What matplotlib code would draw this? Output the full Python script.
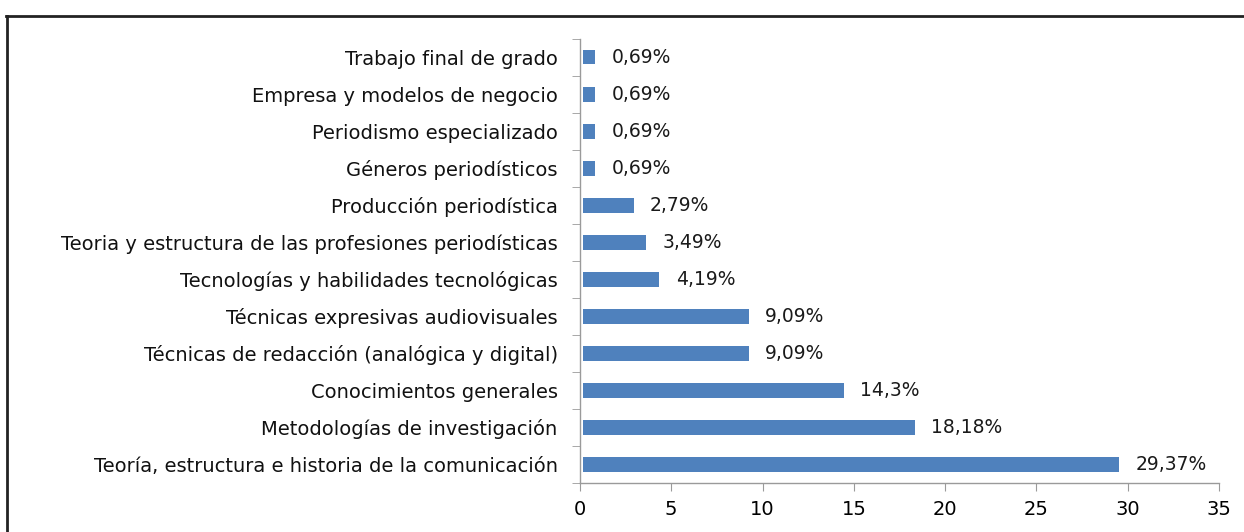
import numpy as np
import matplotlib
matplotlib.use("Agg")
import matplotlib.pyplot as plt
from matplotlib.lines import Line2D

plt.rcParams['font.family'] = ['DejaVu Sans Condensed', 'DejaVu Sans']

categories = [
    "Teoría, estructura e historia de la comunicación",
    "Metodologías de investigación",
    "Conocimientos generales",
    "Técnicas de redacción (analógica y digital)",
    "Técnicas expresivas audiovisuales",
    "Tecnologías y habilidades tecnológicas",
    "Teoria y estructura de las profesiones periodísticas",
    "Producción periodística",
    "Géneros periodísticos",
    "Periodismo especializado",
    "Empresa y modelos de negocio",
    "Trabajo final de grado",
]
values = [29.37, 18.18, 14.3, 9.09, 9.09, 4.19, 3.49, 2.79, 0.69, 0.69, 0.69, 0.69]
labels = ["29,37%", "18,18%", "14,3%", "9,09%", "9,09%", "4,19%", "3,49%",
          "2,79%", "0,69%", "0,69%", "0,69%", "0,69%"]
xticks = [0, 5, 10, 15, 20, 25, 30, 35]

BLUE = "#4F81BD"
AXIS = "#9A9A9A"
FS = 14

fig = plt.figure(figsize=(12.44, 5.32), dpi=100)
ax = fig.add_axes([0.4662, 0.092, 0.5137, 0.8355])

y = np.arange(len(categories))
ax.barh(y, values, height=0.4, color=BLUE, left=0.15)
for yi, v, lab in zip(y, values, labels):
    ax.text(v + 0.15 + 0.9, yi, lab, va="center", ha="left", fontsize=13.5, color="#1a1a1a")

ax.set_xlim(0, 35)
ax.set_ylim(-0.5, len(categories) - 0.5)
ax.set_xticks(xticks)
ax.set_xticklabels([str(t) for t in xticks], fontsize=FS)
ax.set_yticks(y)
ax.set_yticklabels(categories, fontsize=FS, color="#111111")
ax.tick_params(axis="y", which="major", length=0, pad=16)
ax.set_yticks(np.arange(-0.5, len(categories)), minor=True)
ax.tick_params(axis="y", which="minor", length=6, color=AXIS, direction="out")
ax.tick_params(axis="x", length=6, color=AXIS, direction="out", pad=6)

for s in ["top", "right"]:
    ax.spines[s].set_visible(False)
for s in ["left", "bottom"]:
    ax.spines[s].set_color(AXIS)
    ax.spines[s].set_linewidth(1)

# frame around the picture (top and left edges)
fig.add_artist(Line2D([0.005, 1.0], [0.97, 0.97], transform=fig.transFigure, color="#222222", lw=2))
fig.add_artist(Line2D([0.006, 0.006], [0.0, 0.97], transform=fig.transFigure, color="#222222", lw=2))

fig.savefig("out.png", dpi=100)
